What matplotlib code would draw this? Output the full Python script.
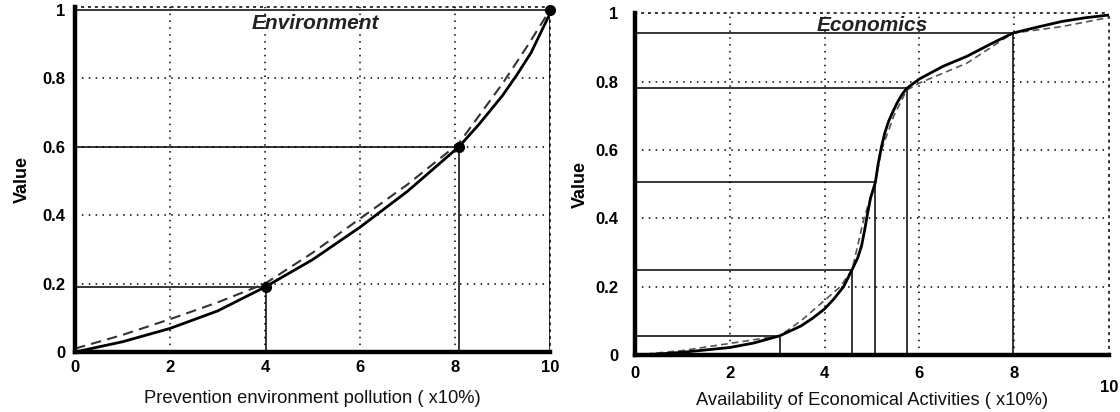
import matplotlib
matplotlib.use("Agg")
import matplotlib.pyplot as plt

plt.rcParams['font.family'] = ['Liberation Sans', 'DejaVu Sans']

# ---------------- data ----------------
env_x = [0, 1, 2, 3, 4, 5, 6, 7, 8.08, 8.5, 9, 9.3, 9.6, 10]
env_y = [0, 0.03, 0.069, 0.12, 0.19, 0.27, 0.365, 0.47, 0.6, 0.665, 0.75, 0.81, 0.875, 0.99]
env_dash_x = [0, 1, 2, 3, 4, 5, 6, 7, 8.08, 9, 9.5, 10]
env_dash_y = [0.01, 0.05, 0.096, 0.145, 0.2, 0.29, 0.39, 0.49, 0.61, 0.785, 0.89, 1.0]
env_pts_x = [4.01, 8.08, 10]
env_pts_y = [0.19, 0.6, 1.0]

eco_x = [0, 0.5, 1, 1.5, 2, 2.5, 3.05, 3.5, 3.75, 4, 4.2, 4.4, 4.58, 4.7, 4.78, 4.85,
         4.9, 4.97, 5.07, 5.13, 5.2, 5.27, 5.35, 5.45, 5.53, 5.63, 5.73, 6, 6.5, 7,
         7.5, 7.97, 8.5, 9, 9.5, 10]
eco_y = [0, 0.003, 0.008, 0.015, 0.022, 0.035, 0.056, 0.085, 0.108, 0.135, 0.165,
         0.2, 0.25, 0.285, 0.32, 0.37, 0.41, 0.46, 0.505, 0.56, 0.61, 0.65, 0.684,
         0.715, 0.738, 0.762, 0.78, 0.808, 0.845, 0.874, 0.91, 0.942, 0.96, 0.976,
         0.987, 0.995]
eco_dash_x = [0, 1, 2, 3.05, 3.5, 4, 4.33, 4.58, 4.83, 5.07, 5.2, 5.46, 5.73, 6, 7,
              7.97, 9, 10]
eco_dash_y = [0, 0.013, 0.034, 0.056, 0.1, 0.16, 0.2, 0.25, 0.4, 0.505, 0.6, 0.7,
              0.775, 0.796, 0.854, 0.942, 0.961, 0.988]
eco_ref_x = [3.05, 4.58, 5.07, 5.73, 7.97]
eco_ref_y = [0.056, 0.25, 0.505, 0.78, 0.942]

xticks = [0, 2, 4, 6, 8, 10]
xtick_labels = ['0', '2', '4', '6', '8', '10']
yticks = [0, 0.2, 0.4, 0.6, 0.8, 1.0]
ytick_labels = ['0', '0.2', '0.4', '0.6', '0.8', '1']

# ---------------- figure ----------------
fig = plt.figure(figsize=(11.2, 4.12), dpi=100)
ax1 = fig.add_axes([0.0670, 0.1456, 0.4241, 0.8384])
ax2 = fig.add_axes([0.5670, 0.1383, 0.4232, 0.8294])

grid_kw = dict(color='black', linestyle=(0, (1, 3.5)), linewidth=1.1)


def style(ax, ytop):
    ax.set_xlim(0, 10)
    ax.set_ylim(0, ytop)
    ax.set_xticks(xticks)
    ax.set_xticklabels(xtick_labels)
    ax.set_yticks(yticks)
    ax.set_yticklabels(ytick_labels)
    ax.tick_params(length=0, labelsize=12)
    for lab in ax.get_xticklabels() + ax.get_yticklabels():
        lab.set_fontweight('bold')
    for x in [2, 4, 6, 8]:
        ax.axvline(x, **grid_kw, zorder=1)
    for y in [0.2, 0.4, 0.6, 0.8]:
        ax.axhline(y, **grid_kw, zorder=1)
    for s in ['left', 'bottom']:
        ax.spines[s].set_linewidth(3.2)
        ax.spines[s].set_zorder(5)
    for s in ['top', 'right']:
        ax.spines[s].set_linestyle((0, (1, 3.5)))
        ax.spines[s].set_linewidth(1.1)
    ax.set_ylabel('Value', fontsize=13, fontweight='bold')


# ---- Environment ----
style(ax1, 1.01)
ax1.tick_params(axis='y', pad=7)
ax1.tick_params(axis='x', pad=6)
ax1.yaxis.set_label_coords(-0.092, 0.5)
ax1.hlines(env_pts_y, 0, env_pts_x, colors='black', linewidth=1.1, zorder=2)
ax1.vlines(env_pts_x, 0, env_pts_y, colors='black', linewidth=1.1, zorder=2)
ax1.plot(env_dash_x, env_dash_y, color='#333333', linestyle=(0, (5, 3)),
         linewidth=1.5, zorder=3)
ax1.plot(env_x, env_y, color='black', linewidth=2.0, zorder=4)
ax1.plot(env_pts_x, env_pts_y, 'o', color='black', markersize=7, zorder=6,
         clip_on=False)
ax1.text(5.05, 0.96, 'Environment', fontsize=15, fontweight='bold',
         fontstyle='italic', ha='center', va='center', color='#222222')
ax1.set_xlabel('Prevention environment pollution ( x10%)', fontsize=13.2,
               color='#111111')
ax1.xaxis.set_label_coords(0.5, -0.11)

# ---- Economics ----
style(ax2, 1.0)
ax2.tick_params(axis='y', pad=12)
ax2.tick_params(axis='x', pad=8)
ax2.yaxis.set_label_coords(-0.097, 0.5)
ax2.hlines(eco_ref_y, 0, eco_ref_x, colors='black', linewidth=1.1, zorder=2)
ax2.vlines(eco_ref_x, 0, eco_ref_y, colors='black', linewidth=1.1, zorder=2)
ax2.plot(eco_dash_x, eco_dash_y, color='#555555', linestyle=(0, (4, 2.5)),
         linewidth=1.2, zorder=3)
ax2.plot(eco_x, eco_y, color='black', linewidth=2.0, zorder=4)
ax2.text(5.0, 0.965, 'Economics', fontsize=15, fontweight='bold',
         fontstyle='italic', ha='center', va='center', color='#222222')
ax2.set_xlabel('Availability of Economical Activities ( x10%)', fontsize=13.2,
               color='#111111')
ax2.xaxis.set_label_coords(0.5, -0.108)
# last x tick label sits lower in the reference
lbls = ax2.get_xticklabels()
lbls[-1].set_y(-0.04)

fig.savefig('out.png', dpi=100)
